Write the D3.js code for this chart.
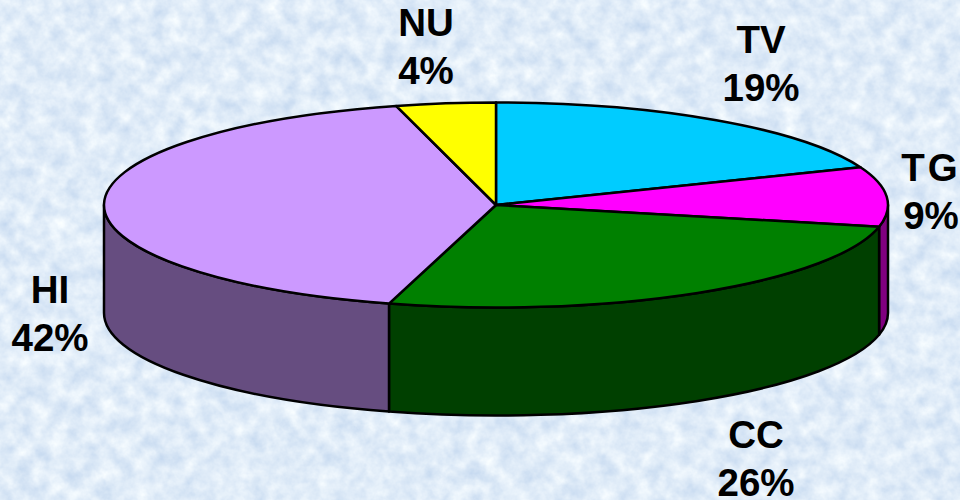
<!DOCTYPE html>
<html>
<head>
<meta charset="utf-8">
<script src="https://cdn.jsdelivr.net/npm/d3@7"></script>
<style>
	html, body { margin: 0; padding: 0; background: #e0ecf8; }
	svg { display: block; }
	text { font-family: "Liberation Sans", Arial, sans-serif; font-weight: bold; font-size: 38.5px; fill: #000; text-anchor: middle; }
</style>
</head>
<body>
<svg class="chart"></svg>
<script>
var categories = ["TV", "TG", "CC", "HI", "NU"];
var values = [19, 9.4, 26, 41.5, 4.1];
var topColors = ["#00ccff", "#ff00ff", "#008000", "#cc99ff", "#ffff00"];
var sideColors = ["#006680", "#800080", "#004000", "#664d80", "#808000"];
var labelX = [761, 931, 756, 50, 426];
var labelY = [53, 181, 448, 303, 36];
var labelSpacing = [0, 3, 0, 0, 0];

var width = 960;
var height = 500;
var cx = 496;
var cy = 205;
var rx = 392;
var ry = 102.5;
var depth = 108;

var svg = d3.select(".chart")
	.attr("width", width)
	.attr("height", height);

// mottled paper background, one noise channel so it stays blue
var filter = svg.append("defs").append("filter")
	.attr("id", "paper")
	.attr("x", 0).attr("y", 0)
	.attr("width", "100%").attr("height", "100%")
	.attr("color-interpolation-filters", "sRGB");
filter.append("feTurbulence")
	.attr("type", "fractalNoise")
	.attr("baseFrequency", 0.06)
	.attr("numOctaves", 4)
	.attr("seed", 7);
filter.append("feColorMatrix")
	.attr("type", "matrix")
	.attr("values", "0.25 0 0 0 0.753  0.18 0 0 0 0.835  0.08 0 0 0 0.933  0 0 0 0 1");

svg.append("rect")
	.attr("width", width)
	.attr("height", height)
	.attr("filter", "url(#paper)");

var pie = d3.pie().sort(null);
var slices = pie(values);

function px(a) { return cx + rx * Math.sin(a); }
function py(a) { return cy - ry * Math.cos(a); }

// Walls, only the part of each slice facing the viewer
function wall(d) {
	var a0 = Math.max(d.startAngle, Math.PI / 2);
	var a1 = Math.min(d.endAngle, Math.PI * 1.5);
	if (a0 >= a1) return null;
	return "M" + px(a0) + "," + py(a0)
		+ "A" + rx + "," + ry + " 0 0 1 " + px(a1) + "," + py(a1)
		+ "L" + px(a1) + "," + (py(a1) + depth)
		+ "A" + rx + "," + ry + " 0 0 0 " + px(a0) + "," + (py(a0) + depth)
		+ "Z";
}

svg.append("g")
	.attr("class", "walls")
	.selectAll("path")
	.data(slices)
	.enter()
	.append("path")
		.attr("d", wall)
		.attr("fill", function(d) { return sideColors[d.index]; })
		.attr("stroke", "#000")
		.attr("stroke-width", 2.5)
		.attr("stroke-linejoin", "round");

// Top face
var arc = d3.arc().innerRadius(0).outerRadius(rx);

svg.append("g")
	.attr("class", "top")
	.attr("transform", "translate(" + cx + "," + cy + ") scale(1," + (ry / rx) + ")")
	.selectAll("path")
	.data(slices)
	.enter()
	.append("path")
		.attr("d", arc)
		.attr("fill", function(d) { return topColors[d.index]; })
		.attr("stroke", "#000")
		.attr("stroke-width", 2.5)
		.attr("stroke-linejoin", "round")
		.attr("vector-effect", "non-scaling-stroke");

// Labels
var label = svg.append("g")
	.attr("class", "labels")
	.selectAll("text")
	.data(slices)
	.enter()
	.append("text")
		.attr("x", function(d) { return labelX[d.index]; })
		.attr("y", function(d) { return labelY[d.index]; });

label.append("tspan")
	.attr("letter-spacing", function(d) { return labelSpacing[d.index]; })
	.text(function(d) { return categories[d.index]; });

label.append("tspan")
	.attr("x", function(d) { return labelX[d.index]; })
	.attr("dy", 48)
	.text(function(d) { return Math.round(d.value) + "%"; });
</script>
</body>
</html>
